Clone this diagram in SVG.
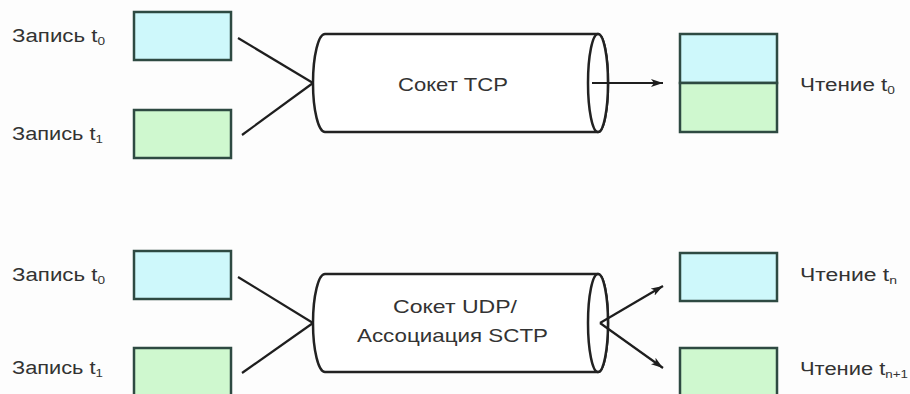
<svg xmlns="http://www.w3.org/2000/svg" width="910" height="394" viewBox="0 0 910 394">
<style>
.lbl{font-family:"Liberation Sans",Arial,sans-serif;font-size:18px;fill:#333}
.big{font-size:19px}
.sub{font-size:11px}
.cy{fill:#cef8fb;stroke:#2e4a42;stroke-width:2.5}
.gr{fill:#cff8cf;stroke:#2e4a42;stroke-width:2.5}
.cyl{fill:#fff;stroke:#222;stroke-width:2.5}
.ln{fill:none;stroke:#1e1e1e;stroke-width:2.2}
</style>
<defs>
<marker id="ah" viewBox="0 0 12 8" refX="12" refY="4" markerWidth="12" markerHeight="8" markerUnits="userSpaceOnUse" orient="auto">
<path d="M0,0 L12,4 L0,8 L3,4 Z" fill="#1e1e1e"/>
</marker>
</defs>
<rect width="910" height="394" fill="#fdfdfd"/>

<g id="w0-top">
<text class="lbl" x="12" y="42" textLength="93" lengthAdjust="spacingAndGlyphs">Запись t<tspan class="sub" dy="3">0</tspan></text>
<rect class="cy" x="134" y="12" width="97" height="48"/>
</g>
<g id="w1-top">
<text class="lbl" x="12" y="140" textLength="91" lengthAdjust="spacingAndGlyphs">Запись t<tspan class="sub" dy="3">1</tspan></text>
<rect class="gr" x="134" y="110" width="97" height="48"/>
</g>
<g id="tcp">
<path class="cyl" d="M325,34 L598,34 A10,49 0 0 1 598,132 L325,132 A12,49 0 0 1 325,34 Z"/>
<ellipse class="cyl" cx="598" cy="83" rx="10" ry="49" fill="none"/>
<text class="lbl big" x="398" y="91" textLength="110" lengthAdjust="spacingAndGlyphs">Сокет TCP</text>
</g>
<g id="read-top">
<rect class="cy" x="680" y="34" width="97" height="49"/>
<rect class="gr" x="680" y="83" width="97" height="49"/>
<text class="lbl" x="800" y="91" textLength="95" lengthAdjust="spacingAndGlyphs">Чтение t<tspan class="sub" dy="3">0</tspan></text>
</g>

<g id="w0-bot">
<text class="lbl" x="12" y="281" textLength="93" lengthAdjust="spacingAndGlyphs">Запись t<tspan class="sub" dy="3">0</tspan></text>
<rect class="cy" x="134" y="251" width="97" height="48"/>
</g>
<g id="w1-bot">
<text class="lbl" x="12" y="374" textLength="91" lengthAdjust="spacingAndGlyphs">Запись t<tspan class="sub" dy="3">1</tspan></text>
<rect class="gr" x="134" y="348" width="97" height="50"/>
</g>
<g id="udp">
<path class="cyl" d="M325,274 L598,274 A10,49 0 0 1 598,372 L325,372 A12,49 0 0 1 325,274 Z"/>
<ellipse class="cyl" cx="598" cy="323" rx="10" ry="49" fill="none"/>
<text class="lbl big" x="393" y="313" textLength="124" lengthAdjust="spacingAndGlyphs">Сокет UDP/</text>
<text class="lbl big" x="357" y="342" textLength="191" lengthAdjust="spacingAndGlyphs">Ассоциация SCTP</text>
</g>
<g id="rn">
<rect class="cy" x="680" y="253" width="97" height="48"/>
<text class="lbl" x="800" y="281" textLength="97" lengthAdjust="spacingAndGlyphs">Чтение t<tspan class="sub" dy="3">n</tspan></text>
</g>
<g id="rn1">
<rect class="gr" x="680" y="348" width="97" height="50"/>
<text class="lbl" x="800" y="375" textLength="108" lengthAdjust="spacingAndGlyphs">Чтение t<tspan class="sub" dy="3">n+1</tspan></text>
</g>

<g id="connectors">
<line class="ln" x1="238" y1="38" x2="313" y2="83"/>
<line class="ln" x1="242" y1="135" x2="313" y2="83"/>
<line class="ln" x1="592" y1="83" x2="663" y2="83" marker-end="url(#ah)"/>
<line class="ln" x1="238" y1="277" x2="313" y2="323"/>
<line class="ln" x1="242" y1="373" x2="313" y2="323"/>
<line class="ln" x1="600" y1="323" x2="663" y2="286" marker-end="url(#ah)"/>
<line class="ln" x1="600" y1="323" x2="663" y2="368" marker-end="url(#ah)"/>
</g>
</svg>
